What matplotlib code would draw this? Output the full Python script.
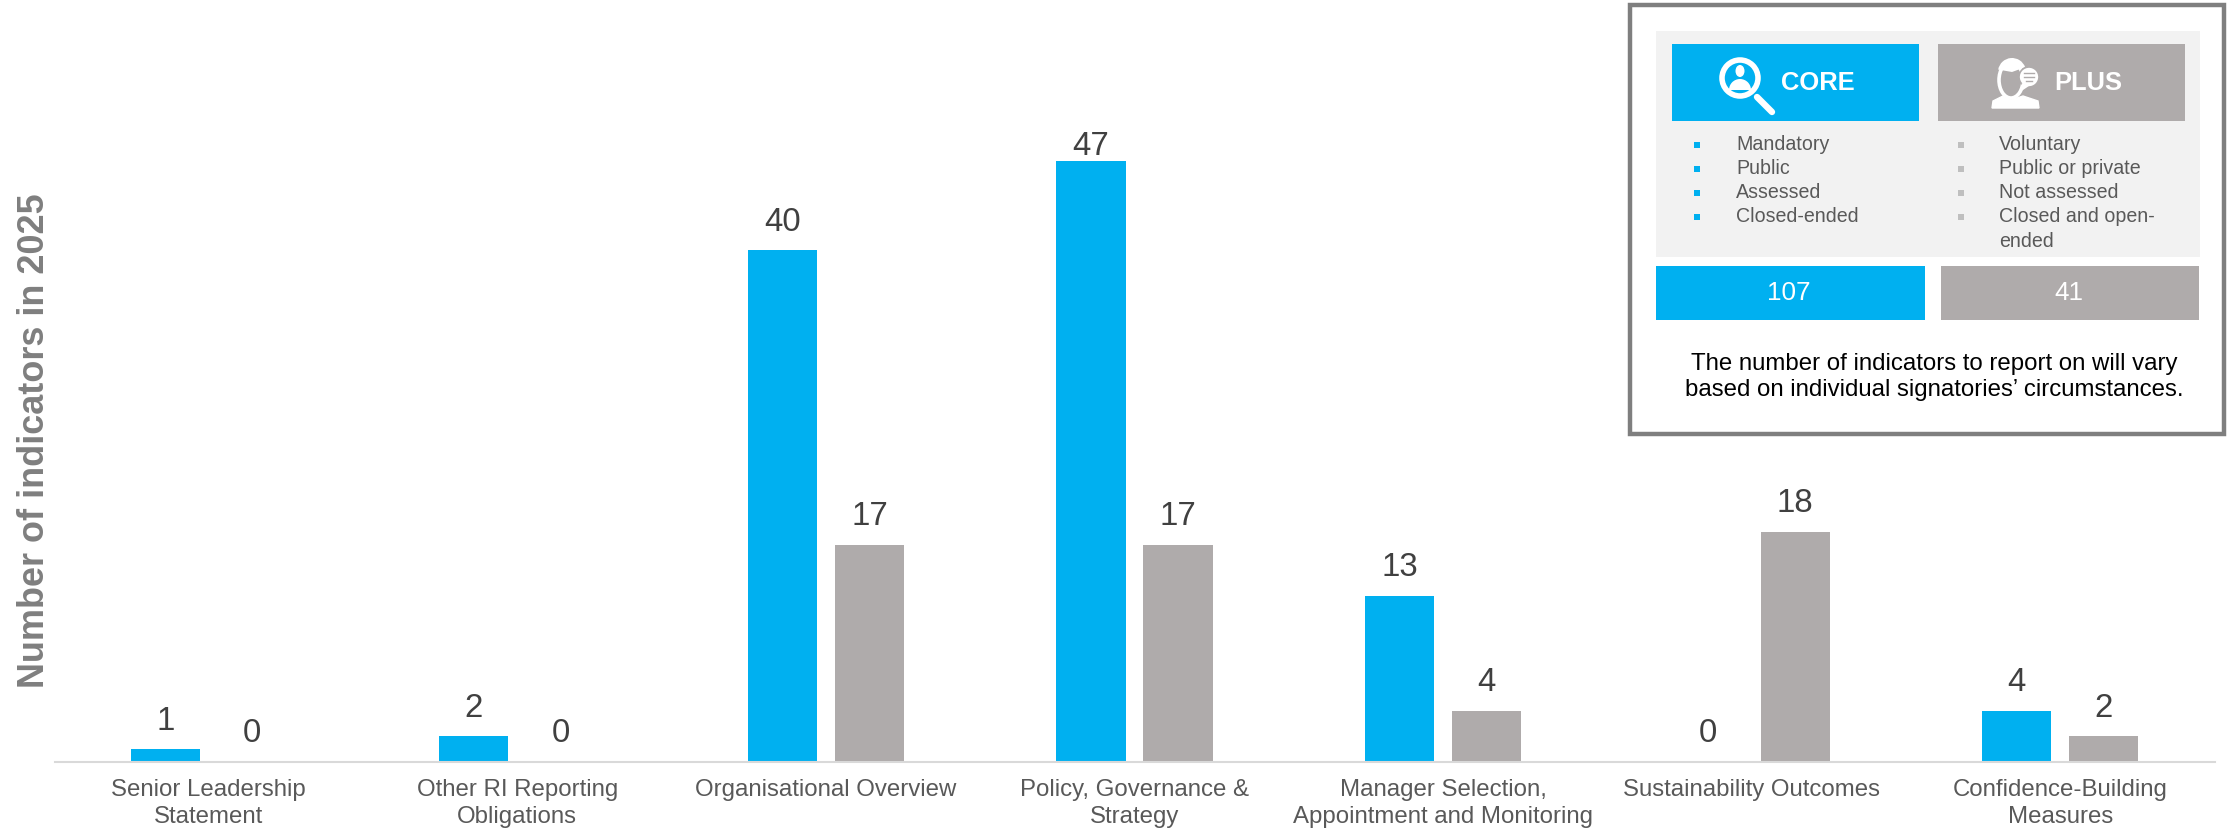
import matplotlib
matplotlib.use("Agg")
import matplotlib.pyplot as plt
from matplotlib.patches import Rectangle, Circle, Ellipse, Polygon, Wedge

plt.rcParams['font.family'] = ['Liberation Sans', 'DejaVu Sans']

categories = ["Senior Leadership\nStatement", "Other RI Reporting\nObligations",
              "Organisational Overview", "Policy, Governance &\nStrategy",
              "Manager Selection,\nAppointment and Monitoring",
              "Sustainability Outcomes", "Confidence-Building\nMeasures"]
core_values = [1, 2, 40, 47, 13, 0, 4]
plus_values = [0, 0, 17, 17, 4, 18, 2]
core_points = ["Mandatory", "Public", "Assessed", "Closed-ended"]
plus_points = ["Voluntary", "Public or private", "Not assessed", "Closed and open-\nended"]
core_total = 107
plus_total = 41
note = "The number of indicators to report on will vary\nbased on individual signatories\u2019 circumstances."

W, H = 2229, 831
BLUE = "#00B0F0"
GREY = "#AFABAB"
TEXT = "#404040"
LABEL = "#595959"
px = 0.72  # points per pixel at 100 dpi

fig = plt.figure(figsize=(W / 100, H / 100), dpi=100, facecolor="white")

# Main bar chart
ax = fig.add_axes([54.5 / W, 1 - 762 / H, (2214.5 - 54.5) / W, (762 - 4) / H])
offset, width = 0.141, 0.2237
for i, (c, p) in enumerate(zip(core_values, plus_values)):
    ax.bar(i - offset, c, width, color=BLUE)
    ax.bar(i + offset, p, width, color=GREY)
    # The tallest bar has its label pulled in tight against the bar
    ax.annotate(str(c), (i - offset, c), xytext=(0, 9 if c < 47 else -1), textcoords="offset points",
                ha="center", va="bottom", fontsize=33 * px, color=TEXT)
    ax.annotate(str(p), (i + offset, p), xytext=(0, 9), textcoords="offset points",
                ha="center", va="bottom", fontsize=33 * px, color=TEXT)
ax.set_xlim(-0.5, 6.5)
ax.set_ylim(0, 758 / 12.79)
ax.set_yticks([])
ax.set_xticks(range(7), categories)
ax.tick_params(axis="x", length=0, pad=12.5, labelsize=24 * px, labelcolor=LABEL)
for lbl in ax.get_xticklabels():
    lbl.set_linespacing(1.3)
for s in ("top", "right", "left"):
    ax.spines[s].set_visible(False)
ax.spines["bottom"].set_color("#D9D9D9")
ax.spines["bottom"].set_linewidth(1.5)
ax.patch.set_alpha(0)

# Pixel-addressed overlay for the axis title and the legend panel
ov = fig.add_axes([0, 0, 1, 1])
ov.set_xlim(0, W)
ov.set_ylim(H, 0)
ov.axis("off")

ov.text(35, 441, "Number of indicators in 2025", rotation=90, ha="center", va="center",
        fontsize=36 * px, fontweight="bold", color="#7F7F7F")


def box(x0, y0, x1, y1, **kw):
    ov.add_patch(Rectangle((x0, y0), x1 - x0, y1 - y0, **kw))


box(1630, 5, 2224, 434, facecolor="white", edgecolor="#7F7F7F", linewidth=3.2)
box(1656, 31, 2200, 257, facecolor="#F2F2F2", edgecolor="none")
box(1672, 44, 1919, 121, facecolor=BLUE, edgecolor="none")
box(1938, 44, 2185, 121, facecolor=GREY, edgecolor="none")
box(1656, 266, 1925, 320, facecolor=BLUE, edgecolor="none")
box(1941, 266, 2199, 320, facecolor=GREY, edgecolor="none")

ov.text(1781, 83, "CORE", color="white", fontsize=25.5 * px, fontweight="bold", ha="left", va="center")
ov.text(2054, 83, "PLUS", color="white", fontsize=25.5 * px, fontweight="bold", ha="left", va="center")
ov.text(1789, 293, str(core_total), color="white", fontsize=26 * px, ha="center", va="center")
ov.text(2069, 293, str(plus_total), color="white", fontsize=26 * px, ha="center", va="center")

# Magnifier icon
ov.plot([1757, 1772], [97, 112], color="white", linewidth=4.6, solid_capstyle="round")
ov.add_patch(Circle((1740, 78), 18, facecolor="none", edgecolor="white", linewidth=4))
ov.add_patch(Ellipse((1740, 71), 9, 12, facecolor="white", edgecolor="none"))
ov.add_patch(Wedge((1740, 90), 11, 180, 360, facecolor="white", edgecolor="none"))

# Head-and-speech-bubble icon
ov.add_patch(Ellipse((2011, 80), 24, 36, facecolor="none", edgecolor="white", linewidth=2.6))
ov.add_patch(Wedge((2012, 72), 14, 190, 340, facecolor="white", edgecolor="none"))
ov.add_patch(Polygon([(1992, 108), (1993, 101), (2003, 96), (2011, 100), (2023, 96), (2038, 101), (2039, 108)],
                     facecolor="white", edgecolor="white", linewidth=1))
ov.add_patch(Circle((2029, 77), 10, facecolor="white", edgecolor=GREY, linewidth=1.2))
ov.add_patch(Polygon([(2022, 83), (2020, 92), (2029, 86)], facecolor="white", edgecolor="none"))
for ly, half in zip((73, 77, 81), (5, 5, 3)):
    ov.plot([2029 - half, 2029 + half], [ly, ly], color=GREY, linewidth=1)

# Bullet lists
ys = [145, 169, 193, 217]
for y, t in zip(ys, core_points):
    box(1694, y - 3, 1700, y + 3, facecolor=BLUE, edgecolor="none")
    ov.text(1736, y, t, fontsize=19.7 * px, color=LABEL, ha="left", va="center")
for y, t in zip(ys, plus_points):
    box(1958, y - 3, 1964, y + 3, facecolor="#BFBFBF", edgecolor="none")
    ov.text(1999, y - 10, t, fontsize=19.7 * px, color=LABEL, ha="left", va="top", linespacing=1.4)

ov.text(1934, 377, note, fontsize=24 * px, color="black", ha="center", va="center", linespacing=1.2)

fig.savefig("out.png", dpi=100, facecolor="white")
